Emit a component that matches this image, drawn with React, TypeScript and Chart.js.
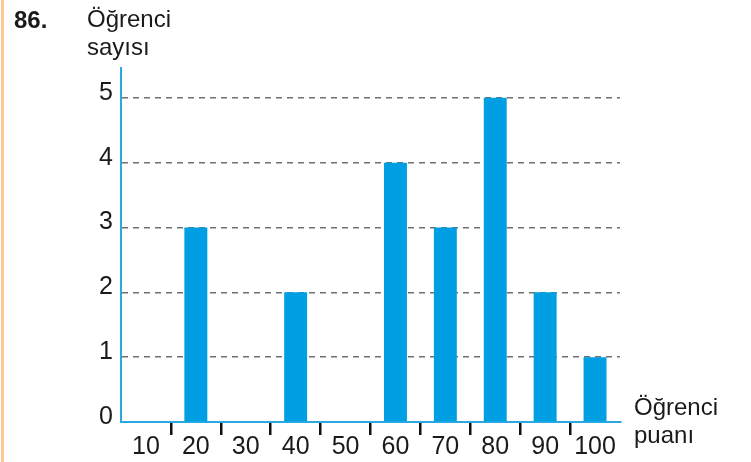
import React, { useEffect, useRef } from "react";
import { Chart, registerables } from "chart.js";

Chart.register(...registerables);

const categories = ["10", "20", "30", "40", "50", "60", "70", "80", "90", "100"];
const studentCounts = [0, 3, 0, 2, 0, 4, 3, 5, 2, 1];
const yTickValues = [0, 1, 2, 3, 4, 5];
const yMax = 5.46;

const FONT = "'Liberation Sans', Arial, Helvetica, sans-serif";
const BAR_COLOR = "#009FE3";
const AXIS_COLOR = "#2AA9E0";
const TEXT_COLOR = "#1a1a1a";

export default function App() {
  const canvasRef = useRef<HTMLCanvasElement | null>(null);

  useEffect(() => {
    if (!canvasRef.current) return;
    const chart = new Chart(canvasRef.current, {
      type: "bar",
      data: {
        labels: categories,
        datasets: [
          {
            data: studentCounts,
            backgroundColor: BAR_COLOR,
            borderWidth: 0,
            barPercentage: 0.46,
            categoryPercentage: 1,
          },
        ],
      },
      options: {
        responsive: false,
        animation: false,
        layout: { padding: { left: 0, right: 131, top: 68, bottom: 0 } },
        plugins: {
          legend: { display: false },
          tooltip: { enabled: false },
          title: { display: false },
        },
        scales: {
          x: {
            type: "category",
            offset: true,
            afterFit: (scale: any) => {
              scale.height = 40;
            },
            border: { display: true, color: AXIS_COLOR, width: 2 },
            grid: {
              display: true,
              offset: true,
              drawOnChartArea: false,
              drawTicks: true,
              tickLength: 13,
              lineWidth: 2.5,
              color: (ctx: any) =>
                ctx.type !== "tick" || ctx.index === 0 ? "rgba(0,0,0,0)" : "#111",
            },
            ticks: {
              autoSkip: false,
              maxRotation: 0,
              minRotation: 0,
              padding: -3,
              color: TEXT_COLOR,
              font: { family: FONT, size: 25 },
            },
          },
          y: {
            type: "linear",
            min: 0,
            max: yMax,
            afterFit: (scale: any) => {
              scale.width = 121;
            },
            afterBuildTicks: (scale: any) => {
              scale.ticks = yTickValues.map((v) => ({ value: v }));
            },
            border: { display: true, color: AXIS_COLOR, width: 2, dash: [6, 5] },
            grid: {
              display: true,
              drawTicks: false,
              lineWidth: 1.5,
              color: (ctx: any) =>
                ctx.tick && ctx.tick.value === 0 ? "rgba(0,0,0,0)" : "#707070",
            },
            ticks: {
              padding: 8,
              labelOffset: -5,
              color: TEXT_COLOR,
              font: { family: FONT, size: 25 },
              callback: (v: any) => String(v),
            },
          },
        },
      },
    });
    return () => chart.destroy();
  }, []);

  const textBase: React.CSSProperties = {
    position: "absolute",
    fontFamily: FONT,
    fontSize: 24,
    lineHeight: "28px",
    color: TEXT_COLOR,
    whiteSpace: "nowrap",
  };

  return (
    <div
      style={{
        position: "absolute",
        left: 0,
        top: 0,
        width: 751,
        height: 462,
        background: "#fff",
        overflow: "hidden",
      }}
    >
      <canvas
        ref={canvasRef}
        width={751}
        height={462}
        style={{ position: "absolute", left: 0, top: 0, width: 751, height: 462 }}
      />
      <div
        style={{
          position: "absolute",
          left: 1,
          top: 0,
          width: 3,
          height: 462,
          background: "#FDC797",
        }}
      />
      <div style={{ ...textBase, left: 14, top: 6, fontWeight: "bold" }}>86.</div>
      <div style={{ ...textBase, left: 87, top: 5 }}>
        Öğrenci
        <br />
        sayısı
      </div>
      <div style={{ ...textBase, left: 634, top: 393 }}>
        Öğrenci
        <br />
        puanı
      </div>
    </div>
  );
}
